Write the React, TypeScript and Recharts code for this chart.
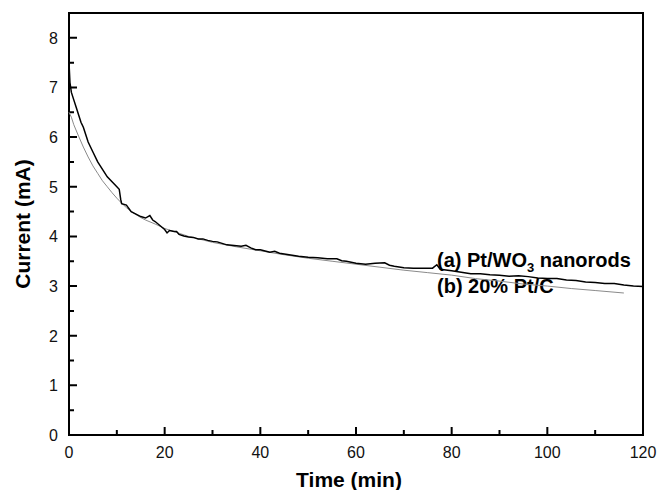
import React from 'react';
import { LineChart, Line, XAxis, YAxis, Customized } from 'recharts';

// (a) Pt/WO3 nanorods
const timeA = [
  0, 0.2, 0.5, 1, 1.5, 2, 2.5, 3, 4, 5, 6, 7, 8, 9, 10, 10.5, 10.8, 11, 12, 13,
  14, 15, 16, 16.9, 17.5, 18, 19, 20, 20.5, 21, 22, 22.5, 23, 24, 25, 26, 27, 28,
  29, 30, 31, 32, 33, 34, 35, 36, 37, 38, 39, 40, 42, 43, 44, 46, 48, 50, 52, 54,
  56, 57, 58, 60, 62, 64, 66, 67, 68, 70, 72, 74, 76, 76.9, 77.6, 80, 82, 84, 86,
  88, 90, 92, 94, 96, 98, 100, 102, 104, 106, 108, 110, 112, 114, 116, 118, 120,
];
const currentA = [
  7.5, 7.1, 6.9, 6.75, 6.6, 6.45, 6.3, 6.2, 5.9, 5.7, 5.5, 5.35, 5.2, 5.1, 5.0,
  4.95, 4.75, 4.66, 4.63, 4.5, 4.45, 4.4, 4.37, 4.42, 4.33, 4.3, 4.22, 4.14, 4.07,
  4.12, 4.1, 4.1, 4.04, 4.01, 3.99, 3.98, 3.95, 3.95, 3.92, 3.9, 3.89, 3.86, 3.83,
  3.82, 3.81, 3.8, 3.82, 3.77, 3.73, 3.73, 3.68, 3.7, 3.66, 3.63, 3.6, 3.58, 3.57,
  3.55, 3.55, 3.51, 3.5, 3.46, 3.44, 3.46, 3.47, 3.42, 3.4, 3.37, 3.36, 3.36,
  3.36, 3.43, 3.34, 3.31, 3.28, 3.25, 3.25, 3.23, 3.22, 3.2, 3.21, 3.19, 3.16,
  3.15, 3.15, 3.12, 3.11, 3.08, 3.07, 3.05, 3.05, 3.02, 3.0, 2.99,
];

// (b) 20% Pt/C
const timeB = [
  0, 0.5, 1, 2, 3, 4, 5, 6, 7, 8, 9, 10, 11, 12, 13, 14, 15, 16, 18, 20, 25, 30,
  35, 40, 45, 50, 55, 60, 65, 70, 75, 80, 85, 90, 95, 100, 105, 110, 116,
];
const currentB = [
  6.5, 6.4, 6.25, 6.02, 5.8, 5.6, 5.42, 5.27, 5.12, 5.0, 4.88, 4.77, 4.67, 4.58,
  4.5, 4.44, 4.38, 4.33, 4.25, 4.16, 4.0, 3.88, 3.79, 3.71, 3.63, 3.56, 3.5, 3.44,
  3.38, 3.32, 3.27, 3.22, 3.15, 3.1, 3.04, 3.0, 2.95, 2.91, 2.86,
];

const xTicks = [0, 10, 20, 30, 40, 50, 60, 70, 80, 90, 100, 110, 120];
const yTicks = [0, 0.5, 1, 1.5, 2, 2.5, 3, 3.5, 4, 4.5, 5, 5.5, 6, 6.5, 7, 7.5, 8];
const xDomain = [0, 120];
const yDomain = [0, 8.5];

const dataA = timeA.map((t, i) => ({ t, a: currentA[i] }));
const dataB = timeB.map((t, i) => ({ t, b: currentB[i] }));

const W = 660;
const H = 490;
const margin = { top: 13, right: 17, bottom: 0, left: 0 };
const Y_AXIS_W = 69;
const X_AXIS_H = 55;
const plotLeft = margin.left + Y_AXIS_W;
const plotTop = margin.top;
const plotRight = W - margin.right;
const plotBottom = H - margin.bottom - X_AXIS_H;
const font = 'Arial, "Liberation Sans", sans-serif';

// same linear mapping the axes use, for the inward ticks and the frame
const sx = (v: number) =>
  plotLeft + ((v - xDomain[0]) / (xDomain[1] - xDomain[0])) * (plotRight - plotLeft);
const sy = (v: number) =>
  plotBottom - ((v - yDomain[0]) / (yDomain[1] - yDomain[0])) * (plotBottom - plotTop);

const framePath = `M${plotLeft},${plotTop}H${plotRight}V${plotBottom}H${plotLeft}Z`;
const tickPath =
  xTicks.map((v) => `M${sx(v)},${plotBottom}v${v % 20 === 0 ? -8 : -5}`).join('') +
  yTicks.map((v) => `M${plotLeft},${sy(v)}h${v % 1 === 0 ? 8 : 5}`).join('');

const Frame = () => (
  <g>
    <path d={framePath} fill="none" stroke="#000" strokeWidth={2} />
    <path d={tickPath} fill="none" stroke="#000" strokeWidth={2} />
    {xTicks
      .filter((v) => v % 20 === 0)
      .map((v) => (
        <text key={'x' + v} x={sx(v)} y={plotBottom + 23} textAnchor="middle" fontSize={16} fontFamily={font} fill="#111">
          {v}
        </text>
      ))}
    {yTicks
      .filter((v) => v % 1 === 0)
      .map((v) => (
        <text key={'y' + v} x={58} y={sy(v) + 6} textAnchor="end" fontSize={16} fontFamily={font} fill="#111">
          {v}
        </text>
      ))}
    <g fontFamily={font} fontWeight="bold" fill="#000">
      <text x={349} y={487} textAnchor="middle" fontSize={21}>
        Time (min)
      </text>
      <text x={30} y={224} textAnchor="middle" fontSize={21} transform="rotate(-90, 30, 224)">
        Current (mA)
      </text>
      <text x={437} y={267} fontSize={20}>
        (a) Pt/WO
        <tspan fontSize={13} dy={5}>3</tspan>
        <tspan dy={-5}> nanorods</tspan>
      </text>
      <text x={437} y={293} fontSize={20}>
        (b) 20% Pt/C
      </text>
    </g>
  </g>
);

export default function App() {
  return (
    <div style={{ position: 'absolute', left: 0, top: 0, background: '#fff' }}>
      <LineChart width={W} height={H} margin={margin}>
        <XAxis
          dataKey="t"
          type="number"
          domain={xDomain}
          ticks={xTicks}
          height={X_AXIS_H}
          tick={false}
          tickLine={false}
          axisLine={false}
          allowDuplicatedCategory={false}
        />
        <YAxis
          type="number"
          domain={yDomain}
          ticks={yTicks}
          width={Y_AXIS_W}
          tick={false}
          tickLine={false}
          axisLine={false}
        />
        <Line
          data={dataB}
          dataKey="b"
          type="linear"
          stroke="#8a8a8a"
          strokeWidth={1}
          dot={false}
          isAnimationActive={false}
        />
        <Line
          data={dataA}
          dataKey="a"
          type="linear"
          stroke="#000"
          strokeWidth={1.5}
          dot={false}
          isAnimationActive={false}
        />
        <Customized component={Frame} />
      </LineChart>
    </div>
  );
}
